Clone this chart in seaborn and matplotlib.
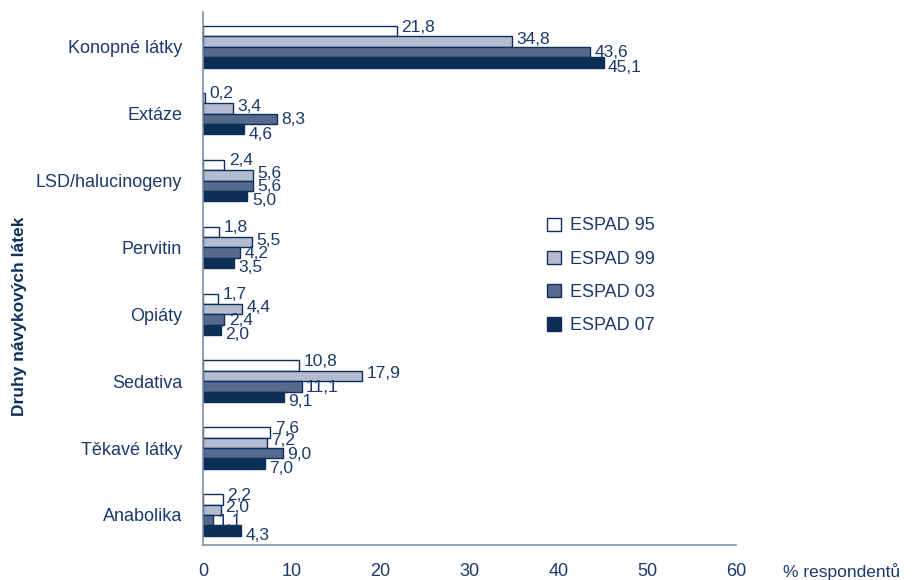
import pandas as pd
import numpy as np
import matplotlib.pyplot as plt
import seaborn as sns

categories = ['Konopné látky', 'Extáze', 'LSD/halucinogeny', 'Pervitin',
              'Opiáty', 'Sedativa', 'Těkavé látky', 'Anabolika']
series = ['ESPAD 95', 'ESPAD 99', 'ESPAD 03', 'ESPAD 07']
espad95 = [21.8, 0.2, 2.4, 1.8, 1.7, 10.8, 7.6, 2.2]
espad99 = [34.8, 3.4, 5.6, 5.5, 4.4, 17.9, 7.2, 2.0]
espad03 = [43.6, 8.3, 5.6, 4.2, 2.4, 11.1, 9.0, 1.1]
espad07 = [45.1, 4.6, 5.0, 3.5, 2.0, 9.1, 7.0, 4.3]
xticks = [0, 10, 20, 30, 40, 50, 60]

df = pd.DataFrame({'latka': categories * 4,
                   'rok': np.repeat(series, len(categories)),
                   'hodnota': espad95 + espad99 + espad03 + espad07})

navy = '#0d2f5e'
text_col = '#1b3a6b'
palette = ['#ffffff', '#b1bad3', '#4d6894', '#00305f']

sns.set_style('white')
plt.rcParams['font.family'] = ['Liberation Sans', 'DejaVu Sans']

fig = plt.figure(figsize=(9.13, 5.8), dpi=100)
ax = fig.add_axes([0.2223, 0.0603, 0.5838, 0.9190])

sns.barplot(data=df, y='latka', x='hodnota', hue='rok', orient='h',
            palette=palette, width=0.62, gap=0, edgecolor=navy, linewidth=1,
            ax=ax)

# popisky hodnot s desetinnou carkou, v kazde skupine trochu roztazene
dy = [3, 1.5, -0.7, -3.5]
for i, cont in enumerate(ax.containers):
    labels = [f'{v:.1f}'.replace('.', ',') for v in cont.datavalues]
    for bar, lab in zip(cont, labels):
        ax.annotate(lab, (bar.get_width(), bar.get_y() + bar.get_height() / 2),
                    xytext=(3.2, dy[i]), textcoords='offset points',
                    ha='left', va='center', fontsize=12.5, color=text_col)

ax.set_xlim(0, 60)
ax.set_ylim(7.45, -0.52)
ax.set_xticks(xticks)
ax.set_xticklabels([str(t) for t in xticks], fontsize=13, color=text_col)
ax.tick_params(axis='x', direction='in', length=7, width=1, color='#6f80a3', pad=13)
ax.tick_params(axis='y', length=0, pad=15, labelsize=13, labelcolor=text_col)
for s in ['top', 'right']:
    ax.spines[s].set_visible(False)
for s in ['left', 'bottom']:
    ax.spines[s].set_color('#7f8fae')
    ax.spines[s].set_linewidth(1.2)

ax.set_xlabel('')
ax.set_ylabel('Druhy návykových látek', fontsize=12.5, fontweight='bold',
              color=navy)
ax.yaxis.set_label_coords(-0.33, 0.43)
ax.text(1.088, -0.05, '% respondentů', transform=ax.transAxes, fontsize=12.5,
        color=text_col, ha='left', va='center')

ax.legend(loc='upper left', bbox_to_anchor=(0.615, 0.645), frameon=False,
          fontsize=13, labelcolor=text_col, handlelength=0.75, handleheight=0.75,
          labelspacing=0.9, handletextpad=0.5)

fig.savefig('out.png', dpi=100)
